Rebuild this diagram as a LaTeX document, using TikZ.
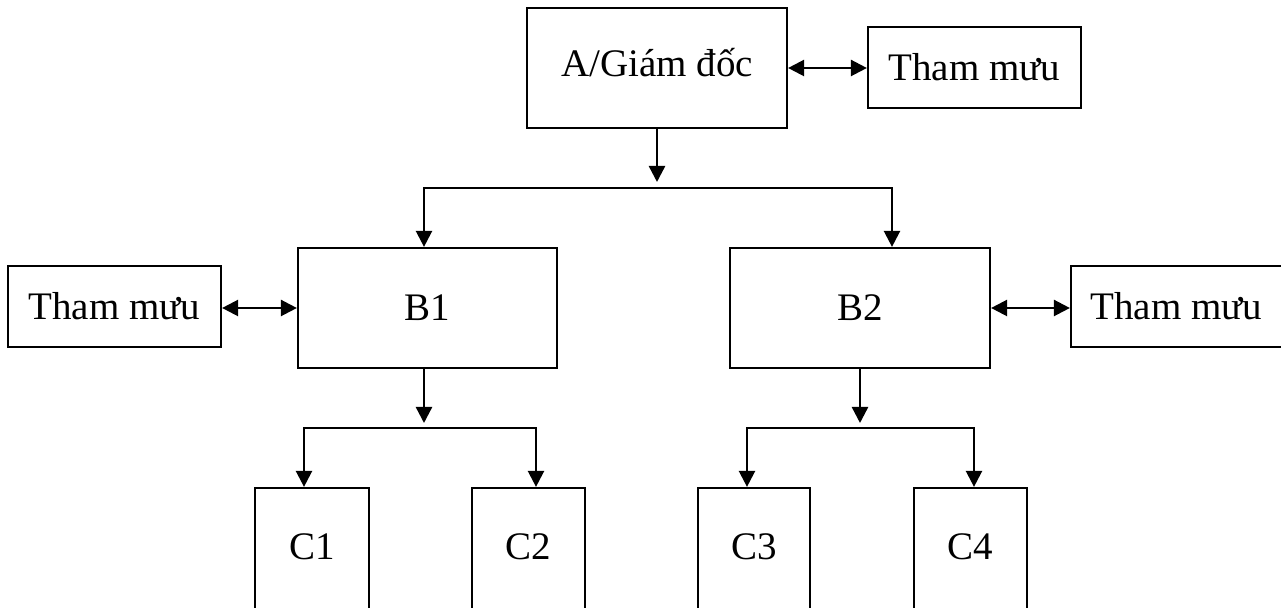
\documentclass[tikz,border=0pt]{standalone}
\usepackage{fontspec}
\setmainfont{Liberation Serif}
\usetikzlibrary{arrows.meta,calc}
\begin{document}
\begin{tikzpicture}[x=0.5pt,y=-0.5pt,
  box/.style={draw, line width=1.1pt, inner sep=0pt,
    font=\fontsize{19.5}{23}\selectfont, text height=14.6pt, text depth=1.7pt},
  conn/.style={line width=1.2pt, line join=miter},
  arr/.style={conn,-{Triangle[length=8pt,width=8pt]}},
  darr/.style={conn,{Triangle[length=8pt,width=8pt]}-{Triangle[length=8pt,width=8pt]}}]
\useasboundingbox (0,0) rectangle (1281,608);

% boxes
\node[box, minimum width=130pt, minimum height=60pt, text depth=5.7pt] (A) at (657,68) {A/Giám đốc};
\node[box, minimum width=106.5pt, minimum height=40.5pt] (TM0) at (974.5,67.5) {Tham mưu};
\node[box, minimum width=129.5pt, minimum height=60pt] (B1) at (427.5,308) {B1};
\node[box, minimum width=130pt, minimum height=60pt] (B2) at (860,308) {B2};
\node[box, minimum width=106.5pt, minimum height=40.5pt] (TM1) at (114.5,306.5) {Tham mưu};
\node[box, minimum width=105.5pt, minimum height=40.5pt] (TM2) at (1176.5,306.5) {Tham mưu};
\node[box, minimum width=57pt, minimum height=62pt, text depth=4.7pt] (C1) at (312,550) {C1};
\node[box, minimum width=56.5pt, minimum height=62pt, text depth=4.7pt] (C2) at (528.5,550) {C2};
\node[box, minimum width=56pt, minimum height=62pt, text depth=4.7pt] (C3) at (754,550) {C3};
\node[box, minimum width=56.5pt, minimum height=62pt, text depth=4.7pt] (C4) at (970.5,550) {C4};

% staff links
\draw[darr] (A.east) -- (A.east -| TM0.west);
\draw[darr] (TM1.east |- B1.west) -- (B1.west);
\draw[darr] (B2.east) -- (B2.east -| TM2.west);

% A -> B level
\coordinate (Atip) at (657,182);
\coordinate (bL) at (424,188);
\coordinate (bR) at (892,188);
\draw[arr] (A.south) -- (Atip);
\draw[arr] (bR) -- (bL) -- (bL |- B1.north);
\draw[arr] (bL) -- (bR) -- (bR |- B2.north);

% B1 -> C1, C2
\coordinate (B1out) at (424,368);
\coordinate (B1tip) at (424,423);
\coordinate (cL1) at (304,428);
\coordinate (cL2) at (536,428);
\draw[arr] (B1out) -- (B1tip);
\draw[arr] (cL2) -- (cL1) -- (cL1 |- C1.north);
\draw[arr] (cL1) -- (cL2) -- (cL2 |- C2.north);

% B2 -> C3, C4
\coordinate (B2tip) at (860,423);
\coordinate (cR1) at (747,428);
\coordinate (cR2) at (974,428);
\draw[arr] (B2.south) -- (B2tip);
\draw[arr] (cR2) -- (cR1) -- (cR1 |- C3.north);
\draw[arr] (cR1) -- (cR2) -- (cR2 |- C4.north);
\end{tikzpicture}
\end{document}
